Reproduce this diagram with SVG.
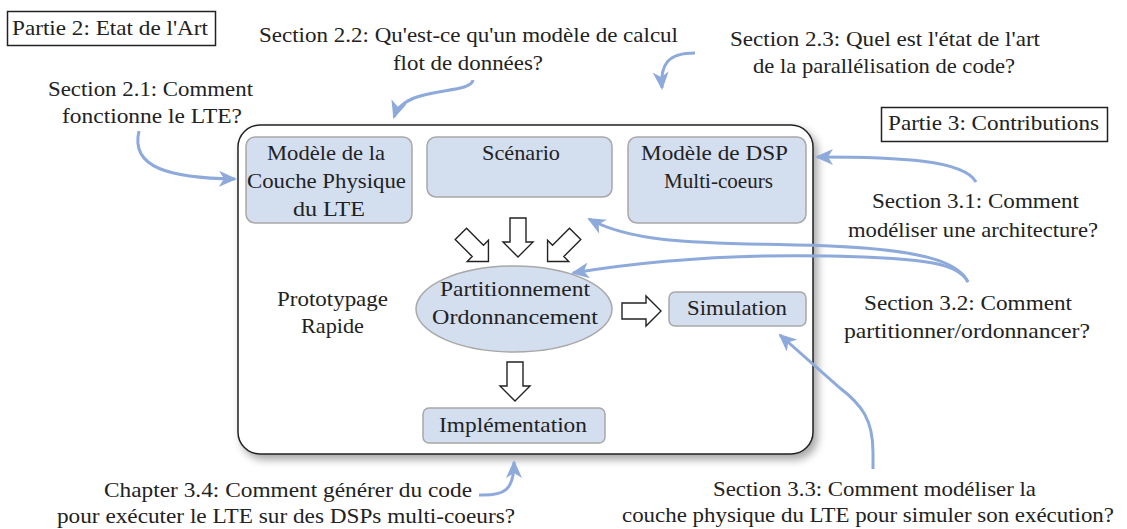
<svg xmlns="http://www.w3.org/2000/svg" width="1127" height="529" viewBox="0 0 1127 529" font-family="Liberation Serif, DejaVu Serif, serif">
<style>
text{font-family:'Liberation Serif','DejaVu Serif',serif;font-size:22px;fill:#222;}
.box{fill:#D3DEEF;stroke:#A8A8A8;stroke-width:1.5;}
.frame{fill:#fff;stroke:#222;stroke-width:1.5;}
.part{fill:#fff;stroke:#222;stroke-width:1.5;}
.blk{fill:#fff;stroke:#222;stroke-width:1.4;stroke-linejoin:miter;}
.q{fill:none;stroke:#8EAADB;stroke-width:3;marker-end:url(#ah);}
</style>
<defs>
<marker id="ah" markerUnits="userSpaceOnUse" markerWidth="18" markerHeight="16" viewBox="0 0 18 16" refX="16" refY="8" orient="auto">
<path d="M0,0 L18,8 L0,16 L5,8 Z" fill="#8EAADB"/>
</marker>
<path id="blockdown" d="M-8,-20 H8 V4 H15 L0,19 L-15,4 H-8 Z"/>
<filter id="sh" x="-10%" y="-10%" width="125%" height="125%">
<feDropShadow dx="4" dy="5" stdDeviation="4" flood-color="#000" flood-opacity="0.35"/>
</filter>
</defs>

<g id="frame">
<rect class="frame" x="238" y="125" width="575" height="329" rx="22" filter="url(#sh)"/>
</g>

<g id="partie2">
<rect class="part" x="7.5" y="11.5" width="208" height="34"/>
<text x="12" y="35" textLength="196" lengthAdjust="spacingAndGlyphs">Partie 2: Etat de l'Art</text>
</g>
<g id="partie3">
<rect class="part" x="881.5" y="107.5" width="226" height="34"/>
<text x="888" y="130" textLength="211" lengthAdjust="spacingAndGlyphs">Partie 3: Contributions</text>
</g>

<g id="q21">
<text x="48" y="96" textLength="205" lengthAdjust="spacingAndGlyphs">Section 2.1: Comment</text>
<text x="62" y="123" textLength="180" lengthAdjust="spacingAndGlyphs">fonctionne le LTE?</text>
</g>
<g id="q22">
<text x="259" y="42" textLength="419" lengthAdjust="spacingAndGlyphs">Section 2.2: Qu'est-ce qu'un modèle de calcul</text>
<text x="393" y="70" textLength="150" lengthAdjust="spacingAndGlyphs">flot de données?</text>
</g>
<g id="q23">
<text x="730" y="46" textLength="310" lengthAdjust="spacingAndGlyphs">Section 2.3: Quel est l'état de l'art</text>
<text x="753" y="73" textLength="262" lengthAdjust="spacingAndGlyphs">de la parallélisation de code?</text>
</g>
<g id="q31">
<text x="872" y="208" textLength="207" lengthAdjust="spacingAndGlyphs">Section 3.1: Comment</text>
<text x="848" y="237" textLength="250" lengthAdjust="spacingAndGlyphs">modéliser une architecture?</text>
</g>
<g id="q32">
<text x="864" y="310" textLength="208" lengthAdjust="spacingAndGlyphs">Section 3.2: Comment</text>
<text x="844" y="338" textLength="246" lengthAdjust="spacingAndGlyphs">partitionner/ordonnancer?</text>
</g>
<g id="q33">
<text x="713" y="496" textLength="323" lengthAdjust="spacingAndGlyphs">Section 3.3: Comment modéliser la</text>
<text x="622" y="522" textLength="492" lengthAdjust="spacingAndGlyphs">couche physique du LTE pour simuler son exécution?</text>
</g>
<g id="q34">
<text x="104" y="497" textLength="368" lengthAdjust="spacingAndGlyphs">Chapter 3.4: Comment générer du code</text>
<text x="57" y="523" textLength="458" lengthAdjust="spacingAndGlyphs">pour exécuter le LTE sur des DSPs multi-coeurs?</text>
</g>

<g id="lte">
<rect class="box" x="246" y="137" width="166" height="86" rx="9"/>
<text x="267" y="160" textLength="118" lengthAdjust="spacingAndGlyphs">Modèle de la</text>
<text x="247" y="188" textLength="159" lengthAdjust="spacingAndGlyphs">Couche Physique</text>
<text x="293" y="216" textLength="72" lengthAdjust="spacingAndGlyphs">du LTE</text>
</g>
<g id="scenario">
<rect class="box" x="427" y="137" width="185" height="60" rx="9"/>
<text x="482" y="160" textLength="78" lengthAdjust="spacingAndGlyphs">Scénario</text>
</g>
<g id="dsp">
<rect class="box" x="628" y="137" width="178" height="86" rx="9"/>
<text x="641" y="160" textLength="147" lengthAdjust="spacingAndGlyphs">Modèle de DSP</text>
<text x="664" y="188" textLength="109" lengthAdjust="spacingAndGlyphs">Multi-coeurs</text>
</g>
<g id="partition">
<ellipse class="box" cx="514" cy="309" rx="98" ry="43"/>
<text x="440" y="296" textLength="150" lengthAdjust="spacingAndGlyphs">Partitionnement</text>
<text x="432" y="324" textLength="166" lengthAdjust="spacingAndGlyphs">Ordonnancement</text>
</g>
<g id="prototypage">
<text x="277" y="306" textLength="111" lengthAdjust="spacingAndGlyphs">Prototypage</text>
<text x="301" y="333" textLength="63" lengthAdjust="spacingAndGlyphs">Rapide</text>
</g>
<g id="simulation">
<rect class="box" x="669" y="292" width="137" height="34" rx="6"/>
<text x="687" y="315" textLength="100" lengthAdjust="spacingAndGlyphs">Simulation</text>
</g>
<g id="implementation">
<rect class="box" x="423" y="408" width="182" height="35" rx="6"/>
<text x="439" y="432" textLength="148" lengthAdjust="spacingAndGlyphs">Implémentation</text>
</g>

<g id="connectors">
<use href="#blockdown" class="blk" transform="translate(475,248) rotate(-45)"/>
<use href="#blockdown" class="blk" transform="translate(518,238)"/>
<use href="#blockdown" class="blk" transform="translate(561,248) rotate(45)"/>
<use href="#blockdown" class="blk" transform="translate(642,311) rotate(-90)"/>
<use href="#blockdown" class="blk" transform="translate(515,382)"/>

<path class="q" d="M139,131 C130,168 170,178 235,179"/>
<path class="q" d="M473,80 C470,96 405,84 394,117"/>
<path class="q" d="M695,53 C668,53 660,64 662,88"/>
<path class="q" d="M976,182 C964,160 900,157 817,157"/>
<path class="q" d="M968,282 C958,261 920,250 830,246 C720,242 640,247 589,219"/>
<path class="q" d="M968,282 C958,264 930,258 830,256 C720,254 640,262 573,273"/>
<path class="q" d="M873,469 L873,452 C873,420 862,405 840,388 L780,335"/>
<path class="q" d="M479,495 C505,496 514,490 514,462"/>
</g>
</svg>
